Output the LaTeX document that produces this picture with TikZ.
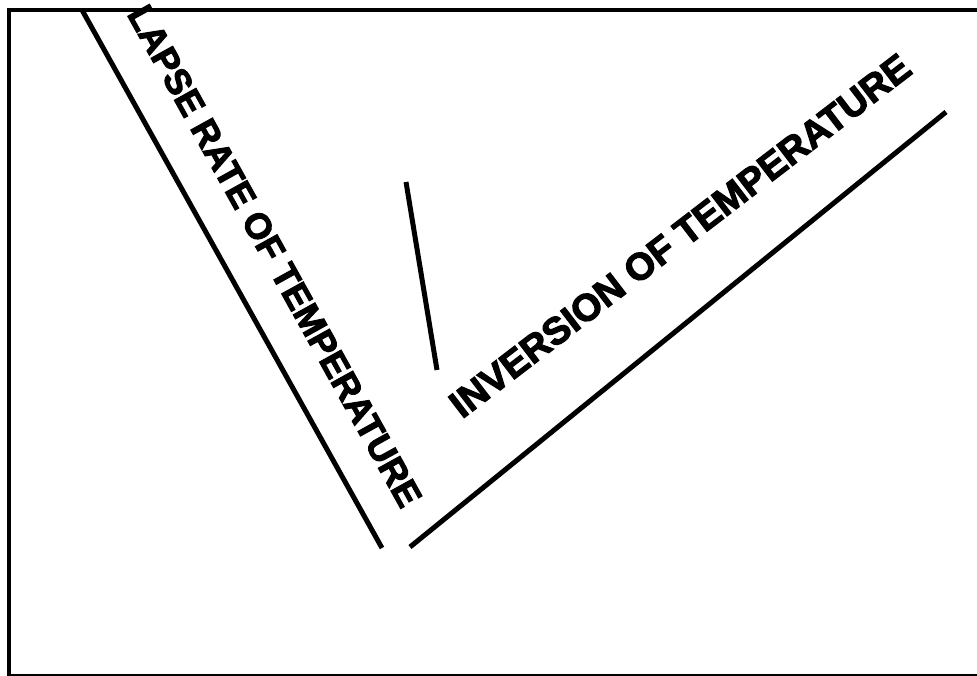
\documentclass[tikz,border=0pt]{standalone}
\usepackage{fontspec}
\setmainfont{Liberation Sans}
\newfontfamily\labelfont{Liberation Sans Bold}[FakeBold=3]
\usepackage{tikz}
\usetikzlibrary{positioning,calc}

\tikzset{
  profile/.style={line width=5pt},
  label text/.style={inner sep=0pt, anchor=base}
}

\begin{document}
\begin{tikzpicture}[x=1pt,y=1pt]
    \useasboundingbox (0,0) rectangle (977,675);
    \draw[line width=3.5pt] (9,-0.5) rectangle (995,665);

    % lapse rate line
    \coordinate (lapsetop) at (82,665);
    \coordinate (lapsebot) at (382,127);
    \draw[profile] (lapsetop) -- (lapsebot);
    \node[label text,rotate=-61,font=\labelfont\fontsize{36}{40}\selectfont] (lapse) at (264,413) {LAPSE RATE OF TEMPERATURE};

    % inversion line
    \coordinate (invbot) at (410,128);
    \coordinate (invtop) at (946,563);
    \draw[profile] (invbot) -- (invtop);
    \node[label text,rotate=37.5,font=\labelfont\fontsize{38}{40}\selectfont] (inversion) at (688,429) {INVERSION OF TEMPERATURE};

    % short stroke
    \coordinate (marktop) at (406,493);
    \coordinate (markbot) at (437,305);
    \draw[profile] (marktop) -- (markbot);
\end{tikzpicture}
\end{document}
